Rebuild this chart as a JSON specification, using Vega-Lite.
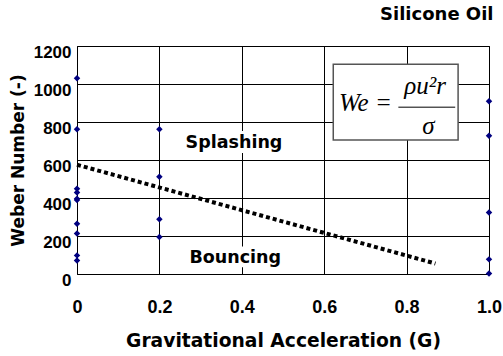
{
  "$schema": "https://vega.github.io/schema/vega-lite/v6.json",
  "width": 412,
  "height": 228,
  "autosize": "none",
  "padding": {"left": 77, "top": 46, "right": 14, "bottom": 82},
  "background": "white",
  "title": {"text": "Silicone Oil", "anchor": "end", "dx": -8, "offset": 19, "font": "DejaVu Sans", "fontSize": 18, "fontWeight": "bold", "color": "black"},
  "config": {
    "view": {"stroke": "black", "strokeWidth": 1},
    "title": {"dx": -8},
    "axis": {"gridColor": "black", "gridOpacity": 1, "gridWidth": 1, "domain": false, "ticks": false, "labelOverlap": false, "labelFlush": false, "labelFont": "Liberation Sans", "labelFontSize": 17, "labelFontWeight": "bold", "labelColor": "black", "titleFont": "DejaVu Sans", "titleFontWeight": "bold", "titleColor": "black"}
  },
  "datasets": {
    "points": [
      {"g": 0, "we": 1030}, {"g": 0, "we": 762}, {"g": 0, "we": 449}, {"g": 0, "we": 429}, {"g": 0, "we": 396}, {"g": 0, "we": 389}, {"g": 0, "we": 265}, {"g": 0, "we": 213}, {"g": 0, "we": 98}, {"g": 0, "we": 71},
      {"g": 0.2, "we": 762}, {"g": 0.2, "we": 512}, {"g": 0.2, "we": 288}, {"g": 0.2, "we": 195},
      {"g": 1.0, "we": 909}, {"g": 1.0, "we": 728}, {"g": 1.0, "we": 324}, {"g": 1.0, "we": 77}, {"g": 1.0, "we": 3}
    ],
    "boundary": [{"g": 0, "we": 575}, {"g": 0.87, "we": 55}],
    "labels": [
      {"g": 0.381, "we": 690, "label": "Splashing"},
      {"g": 0.384, "we": 86, "label": "Bouncing"}
    ],
    "labelboxes": [
      {"g": 0.265, "g2": 0.495, "we": 637, "we2": 752},
      {"g": 0.265, "g2": 0.5, "we": 35, "we2": 145}
    ],
    "formulabox": [{"g": 0.622, "g2": 0.925, "we": 705, "we2": 1104}],
    "formulatext": [
      {"g": 0.7, "we": 900, "t": "We ="},
      {"g": 0.845, "we": 990, "t": "ρu²r"},
      {"g": 0.853, "we": 780, "t": "σ"}
    ],
    "fractionline": [{"g": 0.78, "g2": 0.918, "we": 878}]
  },
  "encoding": {
    "x": {"field": "g", "type": "quantitative", "scale": {"domain": [0, 1]},
      "axis": {"title": "Gravitational Acceleration (G)", "titleFontSize": 18.7, "titlePadding": 15, "values": [0, 0.2, 0.4, 0.6, 0.8, 1.0], "labelPadding": 24, "labelFontSize": 18, "labelExpr": "datum.value == 0 ? '0' : format(datum.value, '.1f')"}},
    "y": {"field": "we", "type": "quantitative", "scale": {"domain": [0, 1200]},
      "axis": {"title": "Weber Number (-)", "titleFontSize": 17, "titlePadding": 6, "values": [0, 200, 400, 600, 800, 1000, 1200], "format": "d", "labelPadding": 6, "labelOffset": 6}}
  },
  "layer": [
    {
      "data": {"name": "points"},
      "mark": {"type": "point", "shape": "diamond", "filled": true, "color": "#000080", "size": 42, "opacity": 1}
    },
    {
      "data": {"name": "boundary"},
      "mark": {"type": "line", "color": "black", "strokeWidth": 4, "strokeDash": [4, 3]}
    },
    {
      "data": {"name": "labelboxes"},
      "mark": {"type": "rect", "fill": "white"},
      "encoding": {
        "x2": {"field": "g2"},
        "y2": {"field": "we2"}
      }
    },
    {
      "data": {"name": "labels"},
      "mark": {"type": "text", "font": "DejaVu Sans", "fontSize": 17.5, "fontWeight": "bold", "color": "black"},
      "encoding": {
        "text": {"field": "label"}
      }
    },
    {
      "data": {"name": "formulabox"},
      "mark": {"type": "rect", "fill": "white", "stroke": "#555555", "strokeWidth": 1.5},
      "encoding": {
        "x2": {"field": "g2"},
        "y2": {"field": "we2"}
      }
    },
    {
      "data": {"name": "formulatext"},
      "mark": {"type": "text", "font": "Liberation Serif", "fontSize": 25, "fontStyle": "italic", "color": "black"},
      "encoding": {
        "text": {"field": "t"}
      }
    },
    {
      "data": {"name": "fractionline"},
      "mark": {"type": "rule", "color": "black", "strokeWidth": 1},
      "encoding": {
        "x2": {"field": "g2"}
      }
    }
  ]
}
